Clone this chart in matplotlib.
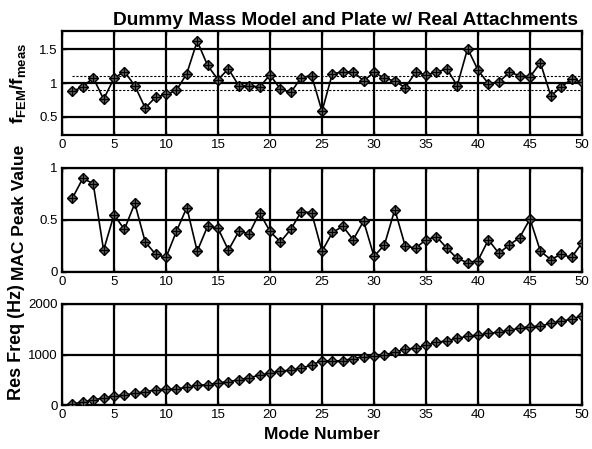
import numpy as np
import matplotlib
matplotlib.use("Agg")
import matplotlib.pyplot as plt

plt.rcParams['font.family'] = ['Liberation Sans', 'DejaVu Sans']
plt.rcParams['mathtext.fontset'] = 'custom'
plt.rcParams['mathtext.rm'] = 'Liberation Sans'
plt.rcParams['mathtext.bf'] = 'Liberation Sans:bold'

# mode numbers 1..50
modes = list(range(1, 51))

# f_FEM / f_meas ratio
freq_ratio = [0.88, 0.94, 1.08, 0.76, 1.07, 1.17, 0.96, 0.63, 0.79, 0.83,
              0.89, 1.14, 1.62, 1.26, 1.05, 1.21, 0.96, 0.96, 0.94, 1.12,
              0.91, 0.86, 1.08, 1.11, 0.58, 1.14, 1.16, 1.17, 1.03, 1.16,
              1.07, 1.03, 0.93, 1.16, 1.12, 1.16, 1.21, 0.96, 1.51, 1.19,
              0.99, 1.01, 1.16, 1.11, 1.09, 1.30, 0.81, 0.94, 1.06, 1.01]
band = [0.9, 1.1]

# MAC peak values
mac_peak = [0.71, 0.90, 0.85, 0.21, 0.55, 0.41, 0.66, 0.29, 0.17, 0.14,
            0.39, 0.62, 0.20, 0.44, 0.42, 0.21, 0.39, 0.37, 0.57, 0.39,
            0.29, 0.41, 0.58, 0.57, 0.20, 0.38, 0.44, 0.31, 0.49, 0.15,
            0.26, 0.60, 0.25, 0.23, 0.31, 0.34, 0.23, 0.13, 0.09, 0.11,
            0.31, 0.18, 0.26, 0.33, 0.51, 0.20, 0.12, 0.17, 0.14, 0.28]

# resonant frequency (Hz)
res_freq = [20, 60, 100, 140, 170, 200, 230, 260, 300, 310,
            320, 350, 390, 400, 440, 460, 500, 540, 590, 630,
            670, 690, 730, 790, 880, 870, 880, 920, 960, 980,
            990, 1050, 1100, 1130, 1180, 1240, 1270, 1320, 1360, 1380,
            1420, 1440, 1480, 1520, 1550, 1560, 1620, 1660, 1700, 1770]

W, H = 592, 449
fig = plt.figure(figsize=(W / 100, H / 100), dpi=100)


def make_ax(top, bottom):
    return fig.add_axes([62 / W, 1 - bottom / H, 520 / W, (bottom - top) / H])


def style(ax, yticks, ylim):
    ax.set_xlim(0, 50)
    ax.set_xticks(range(0, 51, 5))
    ax.set_ylim(*ylim)
    ax.set_yticks(yticks)
    ax.grid(True, color='black', linewidth=1.6, linestyle='-')
    ax.set_axisbelow(True)
    for s in ax.spines.values():
        s.set_linewidth(1.6)
    ax.tick_params(direction='in', length=3, width=1, labelsize=9.5,
                   top=True, right=True, pad=3)


def series(ax, y):
    ax.plot(modes, y, color='black', linewidth=1.2, marker='D', markersize=5.5,
            markerfacecolor='#666666', markeredgecolor='black',
            markeredgewidth=1.0, zorder=3)
    ax.plot(modes, y, linestyle='none', marker='+', markersize=7.5,
            markeredgecolor='black', markeredgewidth=0.9, zorder=4)


ax1 = make_ax(31, 135)
style(ax1, [0.5, 1, 1.5], (0.23, 1.77))
ax1.set_yticklabels(['0.5', '1', '1.5'])
for b in band:
    ax1.plot([modes[0], modes[-1]], [b, b], color='black', linestyle='--',
             linewidth=0.8, dashes=(2, 1.5), zorder=2)
series(ax1, freq_ratio)
ax1.set_ylabel(r'$\mathbf{f_{FEM}/f_{meas}}$', fontsize=13.5)
ax1.yaxis.set_label_coords(-0.065, 0.5)
ax1.set_title('Dummy Mass Model and Plate w/ Real Attachments',
              fontsize=13.8, fontweight='bold', pad=4, x=0.545)

ax2 = make_ax(168, 272)
style(ax2, [0, 0.5, 1], (0, 1))
ax2.set_yticklabels(['0', '0.5', '1'])
series(ax2, mac_peak)
ax2.set_ylabel('MAC Peak Value', fontsize=12.5, fontweight='bold')
ax2.yaxis.set_label_coords(-0.068, 0.57)

ax3 = make_ax(304, 405)
style(ax3, [0, 1000, 2000], (0, 2000))
series(ax3, res_freq)
ax3.set_ylabel('Res Freq (Hz)', fontsize=13, fontweight='bold')
ax3.yaxis.set_label_coords(-0.072, 0.62)
ax3.set_xlabel('Mode Number', fontsize=12.5, fontweight='bold', labelpad=4)

fig.savefig('out.png', dpi=100)
